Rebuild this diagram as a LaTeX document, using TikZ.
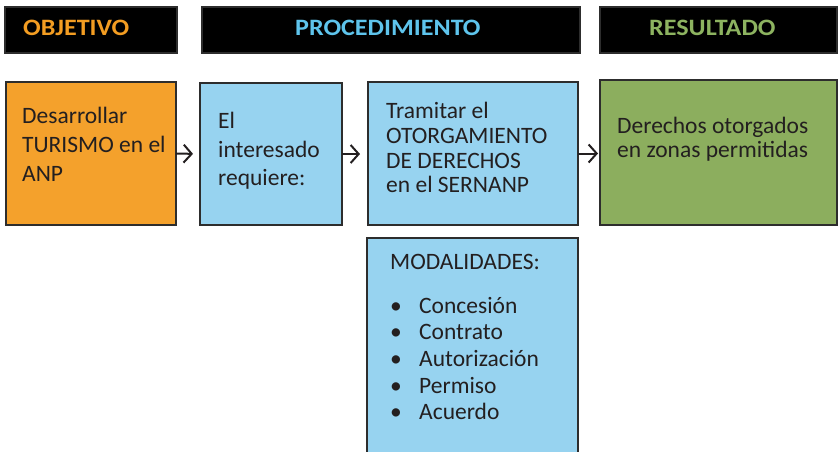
\documentclass[tikz,border=0pt]{standalone}
\usepackage{fontspec}
\setmainfont{Carlito}
\usepackage{xcolor}
\usetikzlibrary{arrows.meta}
\definecolor{naranja}{RGB}{244,161,44}
\definecolor{celeste}{RGB}{151,211,240}
\definecolor{verde}{RGB}{140,174,94}
\definecolor{borde}{RGB}{45,45,45}
\definecolor{tinta}{RGB}{35,31,32}
\definecolor{titnar}{RGB}{243,157,34}
\definecolor{titcel}{RGB}{94,196,236}
\definecolor{titver}{RGB}{141,179,96}

\tikzset{
  cabecera/.style={fill=black, draw=borde, line width=1.5pt, anchor=north west, inner sep=0pt, outer sep=0pt, minimum height=46},
  caja/.style={draw=borde, line width=2pt, anchor=north west, inner sep=0pt, outer sep=0pt},
  titulo/.style={anchor=base west, inner sep=0pt, font=\bfseries\fontsize{23.5}{28}\selectfont\addfontfeatures{FakeStretch=1.11}},
  texto/.style={anchor=base west, inner sep=0pt, text=tinta, font=\fontsize{23.5}{28}\selectfont},
  flecha/.style={-{Straight Barb[length=8pt,width=18pt]}, line width=2pt, draw=tinta}
}

\begin{document}
\begin{tikzpicture}[x=1pt,y=-1pt,line join=miter]
	\useasboundingbox (0,0) rectangle (840,451);
	\clip (0,0) rectangle (840,451);

	% cabeceras
	\node[cabecera, minimum width=172] (cabobj) at (5,7) {};
	\node[cabecera, minimum width=378] (cabproc) at (202,7) {};
	\node[cabecera, minimum width=237] (cabres) at (600,7) {};
	\node[titulo, text=titnar] (tobj) at (23,35) {OBJETIVO};
	\node[titulo, text=titcel] (tproc) at (295,35) {PROCEDIMIENTO};
	\node[titulo, text=titver] (tres) at (649,35) {RESULTADO};

	% cajas
	\node[caja, fill=naranja, minimum width=170, minimum height=143] (objetivo) at (6,82) {};
	\node[caja, fill=celeste, minimum width=142, minimum height=142] (interesado) at (200,83) {};
	\node[caja, fill=celeste, minimum width=210, minimum height=143] (tramite) at (368,82) {};
	\node[caja, fill=verde, minimum width=237, minimum height=145] (derechos) at (600,80) {};
	\node[caja, fill=celeste, minimum width=211, minimum height=230] (modalidades) at (367,238) {};

	% textos
	\node[texto] (d1) at (22,123) {Desarrollar};
	\node[texto] (d2) at (22,152) {TURISMO en el};
	\node[texto] (d3) at (22,181) {ANP};

	\node[texto] (i1) at (218,128) {El};
	\node[texto] (i2) at (218,157) {interesado};
	\node[texto] (i3) at (218,185) {requiere:};

	\node[texto] (t1) at (386,118) {Tramitar el};
	\node[texto] (t2) at (386,143) {OTORGAMIENTO};
	\node[texto] (t3) at (386,168) {DE DERECHOS};
	\node[texto] (t4) at (386,192) {en el SERNANP};

	\node[texto] (r1) at (617,133) {Derechos otorgados};
	\node[texto] (r2) at (617,157) {en zonas permitidas};

	\node[texto] (m0) at (390,269) {MODALIDADES:};
	\foreach \item [count=\k] in {Concesión,Contrato,Autorización,Permiso,Acuerdo}{
		\node[texto, anchor=base] (b\k) at (396,{313+26.7*(\k-1)}) {\textbullet};
		\node[texto] (m\k) at (419,{313+26.7*(\k-1)}) {\item};
	}

	% flechas
	\draw[flecha, shorten >=7pt] (objetivo.east) -- (interesado.west);
	\draw[flecha, shorten >=8pt] (interesado.east) -- (interesado.east -| tramite.west);
	\draw[flecha, shorten >=2pt] (tramite.east) -- (tramite.east -| derechos.west);
\end{tikzpicture}
\end{document}
